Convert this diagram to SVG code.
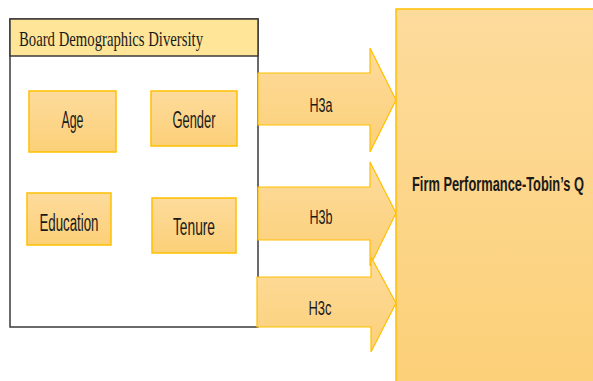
<svg xmlns="http://www.w3.org/2000/svg" width="593" height="381" viewBox="0 0 593 381">
  <defs>
    <linearGradient id="gold" x1="0" y1="0" x2="0" y2="1">
      <stop offset="0" stop-color="#fddb9c"/>
      <stop offset="1" stop-color="#fcd078"/>
    </linearGradient>
    <style>
      .box { fill: url(#gold); stroke: #ffc000; stroke-width: 1.5; }
      .arrow { fill: url(#gold); stroke: #ffc000; stroke-width: 1.2; stroke-linejoin: miter; }
      .lbl { font-family: "Liberation Sans", Arial, sans-serif; font-size: 23px; fill: #1a1a1a; text-anchor: middle; }
      .hyp { font-family: "Liberation Sans", Arial, sans-serif; font-size: 20px; fill: #1a1a1a; text-anchor: middle; }
    </style>
  </defs>

  <rect width="593" height="381" fill="#ffffff"/>

  <!-- outer container with header band -->
  <g id="board-diversity">
    <rect x="10" y="19" width="248" height="308" fill="#ffffff" stroke="#3a3a3a" stroke-width="1.5"/>
    <rect x="10" y="19" width="248" height="37" fill="#fee598" stroke="#3a3a3a" stroke-width="1.5"/>
    <text x="19" y="46" font-family="'Liberation Serif', 'Times New Roman', serif" font-size="22" fill="#1a1a1a" textLength="184" lengthAdjust="spacingAndGlyphs">Board Demographics Diversity</text>
  </g>

  <g id="age">
    <rect class="box" x="29" y="91" width="87" height="61"/>
    <text class="lbl" x="72.5" y="128" textLength="22" lengthAdjust="spacingAndGlyphs">Age</text>
  </g>
  <g id="gender">
    <rect class="box" x="151" y="91" width="86" height="55"/>
    <text class="lbl" x="194" y="128" textLength="43" lengthAdjust="spacingAndGlyphs">Gender</text>
  </g>
  <g id="education">
    <rect class="box" x="27" y="193" width="84" height="52"/>
    <text class="lbl" x="69" y="231" textLength="59" lengthAdjust="spacingAndGlyphs">Education</text>
  </g>
  <g id="tenure">
    <rect class="box" x="152" y="198" width="84" height="55"/>
    <text class="lbl" x="194" y="235" textLength="42" lengthAdjust="spacingAndGlyphs">Tenure</text>
  </g>

  <!-- hypothesis arrows -->
  <g id="connectors">
    <g id="h3a">
      <polygon class="arrow" points="258,73 370,73 370,48 396,100 370,152 370,125 258,125"/>
      <text class="hyp" x="321" y="112" textLength="23" lengthAdjust="spacingAndGlyphs">H3a</text>
    </g>
    <g id="h3b">
      <polygon class="arrow" points="258,187 370,187 370,162 396,213 370,266 370,240 258,240"/>
      <text class="hyp" x="321" y="224" textLength="23" lengthAdjust="spacingAndGlyphs">H3b</text>
    </g>
    <g id="h3c">
      <polygon class="arrow" points="257,277 371,277 371,257 396,303 371,352 371,327 257,327"/>
      <text class="hyp" x="320" y="315" textLength="23" lengthAdjust="spacingAndGlyphs">H3c</text>
    </g>
  </g>

  <g id="firm-performance">
    <rect class="box" x="396" y="9" width="200" height="376"/>
    <text x="498" y="191" font-family="'Liberation Sans', Arial, sans-serif" font-size="20" font-weight="bold" fill="#1a1a1a" text-anchor="middle" textLength="172" lengthAdjust="spacingAndGlyphs">Firm Performance-Tobin’s Q</text>
  </g>
</svg>
